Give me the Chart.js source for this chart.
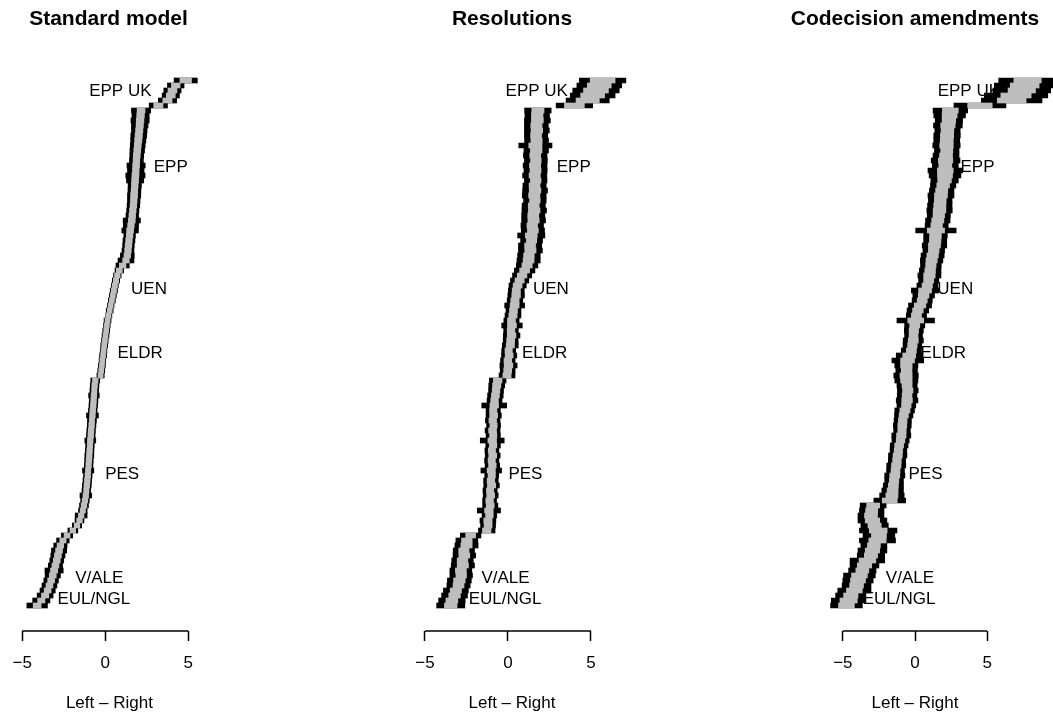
<!DOCTYPE html>
<html>
<head>
<meta charset="utf-8">
<script src="https://cdn.jsdelivr.net/npm/chart.js@4.4.1/dist/chart.umd.min.js"></script>
<style>
  html, body { margin: 0; padding: 0; background: #fff; }
  #wrap { position: relative; width: 1053px; height: 715px; overflow: hidden; }
  canvas { position: absolute; top: 0; }
</style>
</head>
<body>
<div id="wrap">
  <canvas id="std" width="351" height="715" style="left:0px"></canvas>
  <canvas id="res" width="351" height="715" style="left:351px"></canvas>
  <canvas id="cod" width="351" height="715" style="left:702px"></canvas>
</div>
<script>
// MEPs sorted bottom (0) to top (105); estimate, black = wide interval, grey = narrow interval
const panelTitles = ['Standard model', 'Resolutions', 'Codecision amendments'];
const axisTitle = 'Left \u2013 Right';
const xTicks = [-5, 0, 5];

const groupNames = ['EPP UK', 'EPP', 'UEN', 'ELDR', 'PES', 'V/ALE', 'EUL/NGL'];
const groupRows = [102.9, 87.7, 63.3, 50.5, 26.3, 5.5, 1.3];
const stdLabelX = [0.91, 3.95, 2.64, 2.10, 1.02, -0.36, -0.69];
const resLabelX = [1.73, 3.96, 2.58, 2.21, 1.05, -0.15, -0.18];
const codLabelX = [3.73, 4.33, 2.79, 1.96, 0.73, -0.35, -1.10];

const stdMid = [
  -4.10, -3.85, -3.62, -3.47, -3.36, -3.26, -3.16, -3.08, -3.00, -2.92,
  -2.85, -2.78, -2.70, -2.55, -2.30, -1.95, -1.70, -1.55, -1.45, -1.35,
  -1.28, -1.22, -1.17, -1.14, -1.11, -1.08, -1.05, -1.03, -1.00, -0.98,
  -0.96, -0.94, -0.92, -0.90, -0.87, -0.85, -0.82, -0.80, -0.77, -0.75,
  -0.72, -0.70, -0.68, -0.66, -0.64, -0.60, -0.28, -0.24, -0.20, -0.17,
  -0.13, -0.10, -0.06, -0.02, 0.02, 0.06, 0.10, 0.14, 0.20, 0.27,
  0.33, 0.40, 0.46, 0.52, 0.58, 0.65, 0.73, 0.85, 1.05, 1.25,
  1.33, 1.37, 1.40, 1.43, 1.47, 1.50, 1.55, 1.60, 1.63, 1.66,
  1.70, 1.72, 1.74, 1.76, 1.78, 1.80, 1.82, 1.84, 1.86, 1.88,
  1.90, 1.93, 1.96, 1.99, 2.02, 2.05, 2.08, 2.10, 2.13, 2.16,
  3.20, 3.75, 3.95, 4.05, 4.25, 4.85
];
const stdOuter = [
  0.62, 0.52, 0.48, 0.46, 0.45, 0.44, 0.46, 0.55, 0.43, 0.42,
  0.43, 0.46, 0.40, 0.38, 0.34, 0.30, 0.28, 0.27, 0.36, 0.26,
  0.27, 0.26, 0.35, 0.26, 0.27, 0.26, 0.26, 0.34, 0.26, 0.26,
  0.27, 0.26, 0.26, 0.33, 0.26, 0.26, 0.26, 0.27, 0.36, 0.26,
  0.26, 0.26, 0.32, 0.26, 0.26, 0.27, 0.22, 0.21, 0.21, 0.20,
  0.21, 0.20, 0.21, 0.20, 0.21, 0.21, 0.20, 0.21, 0.20, 0.21,
  0.20, 0.21, 0.21, 0.22, 0.21, 0.22, 0.23, 0.26, 0.40, 0.48,
  0.42, 0.36, 0.35, 0.36, 0.35, 0.50, 0.46, 0.52, 0.38, 0.37,
  0.38, 0.38, 0.40, 0.39, 0.40, 0.52, 0.58, 0.50, 0.55, 0.42,
  0.42, 0.44, 0.45, 0.46, 0.48, 0.47, 0.50, 0.55, 0.52, 0.58,
  0.55, 0.55, 0.52, 0.52, 0.50, 0.70
];
const stdInner = [
  0.24, 0.22, 0.22, 0.21, 0.21, 0.21, 0.21, 0.22, 0.21, 0.21,
  0.21, 0.21, 0.20, 0.19, 0.18, 0.17, 0.17, 0.17, 0.17, 0.16,
  0.17, 0.17, 0.17, 0.16, 0.17, 0.17, 0.17, 0.16, 0.17, 0.17,
  0.17, 0.17, 0.16, 0.17, 0.17, 0.17, 0.17, 0.16, 0.17, 0.17,
  0.17, 0.17, 0.17, 0.16, 0.17, 0.17, 0.15, 0.15, 0.15, 0.15,
  0.15, 0.15, 0.15, 0.15, 0.15, 0.15, 0.15, 0.15, 0.15, 0.15,
  0.15, 0.15, 0.15, 0.16, 0.16, 0.16, 0.17, 0.18, 0.20, 0.20,
  0.20, 0.20, 0.20, 0.20, 0.20, 0.21, 0.20, 0.21, 0.20, 0.20,
  0.20, 0.20, 0.21, 0.20, 0.20, 0.21, 0.21, 0.20, 0.21, 0.20,
  0.21, 0.21, 0.21, 0.22, 0.22, 0.22, 0.22, 0.23, 0.23, 0.24,
  0.28, 0.28, 0.27, 0.27, 0.26, 0.35
];

const resMid = [
  -3.45, -3.38, -3.22, -3.14, -2.98, -2.93, -2.82, -2.84, -2.72, -2.74,
  -2.63, -2.66, -2.50, -2.48, -2.25, -1.28, -1.20, -1.21, -1.12, -1.15,
  -1.07, -1.11, -1.04, -1.08, -0.99, -1.03, -0.98, -1.01, -0.94, -0.98,
  -0.92, -0.97, -0.90, -0.95, -0.89, -0.93, -0.87, -0.92, -0.86, -0.89,
  -0.83, -0.81, -0.76, -0.72, -0.68, -0.62, -0.06, -0.02, 0.03, -0.01,
  0.07, 0.04, 0.14, 0.16, 0.22, 0.18, 0.24, 0.21, 0.30, 0.33,
  0.40, 0.42, 0.49, 0.50, 0.58, 0.70, 0.85, 1.00, 1.15, 1.24,
  1.26, 1.35, 1.33, 1.42, 1.40, 1.50, 1.46, 1.54, 1.52, 1.58,
  1.55, 1.62, 1.58, 1.63, 1.60, 1.67, 1.61, 1.66, 1.63, 1.68,
  1.64, 1.70, 1.65, 1.72, 1.69, 1.74, 1.71, 1.77, 1.76, 1.80,
  4.00, 4.80, 5.10, 5.30, 5.50, 5.70
];
const resOuter = [
  0.85, 0.80, 0.78, 0.75, 0.70, 0.72, 0.68, 0.66, 0.70, 0.65,
  0.68, 0.64, 0.70, 0.66, 0.62, 0.50, 0.45, 0.48, 0.44, 0.70,
  0.46, 0.42, 0.45, 0.43, 0.47, 0.44, 0.42, 0.62, 0.44, 0.43,
  0.45, 0.42, 0.44, 0.72, 0.43, 0.45, 0.42, 0.44, 0.46, 0.43,
  0.75, 0.45, 0.47, 0.45, 0.48, 0.50, 0.48, 0.45, 0.52, 0.44,
  0.46, 0.42, 0.48, 0.45, 0.50, 0.44, 0.62, 0.46, 0.48, 0.45,
  0.60, 0.47, 0.50, 0.48, 0.52, 0.55, 0.58, 0.62, 0.65, 0.70,
  0.68, 0.72, 0.70, 0.66, 0.82, 0.70, 0.68, 0.72, 0.70, 0.74,
  0.70, 0.68, 0.72, 0.75, 0.70, 0.68, 0.73, 0.70, 0.72, 0.69,
  0.71, 0.74, 1.00, 0.72, 0.70, 0.75, 0.72, 0.78, 0.74, 0.80,
  1.10, 1.30, 1.35, 1.40, 1.35, 1.40
];
const resInner = [
  0.38, 0.36, 0.35, 0.34, 0.33, 0.35, 0.32, 0.33, 0.34, 0.32,
  0.33, 0.31, 0.34, 0.32, 0.30, 0.26, 0.24, 0.25, 0.23, 0.26,
  0.24, 0.23, 0.24, 0.22, 0.25, 0.23, 0.22, 0.25, 0.23, 0.22,
  0.24, 0.22, 0.23, 0.26, 0.22, 0.24, 0.22, 0.23, 0.24, 0.22,
  0.26, 0.23, 0.24, 0.23, 0.25, 0.26, 0.25, 0.24, 0.26, 0.23,
  0.24, 0.22, 0.25, 0.24, 0.26, 0.23, 0.27, 0.24, 0.25, 0.24,
  0.27, 0.25, 0.26, 0.25, 0.27, 0.28, 0.29, 0.30, 0.31, 0.33,
  0.32, 0.34, 0.33, 0.31, 0.36, 0.33, 0.32, 0.34, 0.33, 0.35,
  0.33, 0.32, 0.34, 0.35, 0.33, 0.32, 0.34, 0.33, 0.34, 0.32,
  0.33, 0.35, 0.40, 0.34, 0.33, 0.35, 0.34, 0.36, 0.35, 0.37,
  0.60, 0.70, 0.72, 0.75, 0.72, 0.75
];

const codMid = [
  -4.75, -4.60, -4.45, -4.20, -4.05, -3.95, -3.85, -3.65, -3.50, -3.30,
  -3.05, -2.95, -2.85, -2.60, -2.50, -2.55, -2.80, -2.95, -3.05, -3.00,
  -2.90, -1.75, -1.60, -1.55, -1.50, -1.45, -1.40, -1.35, -1.30, -1.25,
  -1.20, -1.15, -1.10, -1.00, -0.95, -0.90, -0.88, -0.85, -0.78, -0.70,
  -0.60, -0.55, -0.55, -0.50, -0.55, -0.60, -0.62, -0.58, -0.60, -0.50,
  -0.40, -0.25, -0.18, -0.12, -0.10, -0.08, -0.02, 0.05, 0.10, 0.20,
  0.35, 0.50, 0.60, 0.70, 0.85, 0.95, 1.00, 1.05, 1.10, 1.15,
  1.22, 1.30, 1.35, 1.40, 1.42, 1.45, 1.50, 1.58, 1.65, 1.70,
  1.72, 1.75, 1.80, 1.85, 1.95, 2.05, 2.08, 2.10, 2.10, 2.12,
  2.15, 2.20, 2.18, 2.20, 2.22, 2.25, 2.28, 2.35, 2.40, 2.45,
  4.50, 6.70, 7.00, 7.40, 7.60, 7.80
];
const codOuter = [
  1.10, 1.20, 1.05, 1.15, 1.00, 1.05, 1.10, 0.95, 1.00, 1.20,
  0.95, 1.00, 0.90, 1.25, 1.10, 1.30, 0.95, 1.00, 0.90, 0.85,
  0.90, 1.10, 0.85, 0.75, 0.70, 0.65, 0.70, 0.62, 0.66, 0.60,
  0.64, 0.58, 0.62, 0.60, 0.66, 0.58, 0.62, 0.60, 0.64, 0.70,
  0.65, 0.75, 0.68, 0.72, 0.70, 0.80, 0.85, 0.75, 0.80, 1.10,
  0.90, 0.70, 0.65, 0.70, 0.62, 0.66, 0.70, 1.30, 0.70, 0.75,
  0.80, 0.70, 0.75, 0.95, 0.72, 0.70, 0.80, 0.75, 0.72, 0.78,
  0.80, 0.75, 0.85, 0.80, 0.82, 1.40, 0.80, 0.85, 0.80, 0.88,
  0.85, 0.82, 0.90, 0.85, 0.88, 0.95, 1.10, 1.20, 0.90, 1.00,
  0.90, 0.85, 0.95, 0.90, 0.92, 0.88, 1.00, 0.95, 1.10, 1.20,
  1.80, 2.10, 2.20, 2.00, 2.10, 2.00
];
const codInner = [
  0.55, 0.60, 0.50, 0.55, 0.48, 0.52, 0.55, 0.45, 0.50, 0.58,
  0.46, 0.50, 0.45, 0.60, 0.52, 0.62, 0.46, 0.50, 0.45, 0.42,
  0.45, 0.52, 0.42, 0.38, 0.35, 0.33, 0.35, 0.31, 0.33, 0.30,
  0.32, 0.29, 0.31, 0.30, 0.33, 0.29, 0.31, 0.30, 0.32, 0.35,
  0.33, 0.37, 0.34, 0.36, 0.35, 0.40, 0.42, 0.37, 0.40, 0.50,
  0.45, 0.35, 0.33, 0.35, 0.31, 0.33, 0.35, 0.55, 0.35, 0.37,
  0.40, 0.35, 0.37, 0.45, 0.36, 0.35, 0.40, 0.37, 0.36, 0.39,
  0.40, 0.37, 0.42, 0.40, 0.41, 0.60, 0.40, 0.42, 0.40, 0.44,
  0.42, 0.41, 0.45, 0.42, 0.44, 0.47, 0.52, 0.55, 0.45, 0.50,
  0.45, 0.42, 0.47, 0.45, 0.46, 0.44, 0.50, 0.47, 0.52, 0.55,
  0.85, 1.00, 1.05, 0.95, 1.00, 0.95
];

Chart.defaults.font.family = '"Liberation Sans", Arial, Helvetica, sans-serif';
Chart.defaults.color = '#000';

// group labels go under the marks, axis line only spans the first to last tick (like R's axis())
const panelDecor = {
  id: 'panelDecor',
  beforeDatasetsDraw(chart, args, opts) {
    const { ctx, scales: { x, y } } = chart;
    ctx.save();
    ctx.font = '17px ' + Chart.defaults.font.family;
    ctx.fillStyle = '#000';
    ctx.textAlign = 'center';
    ctx.textBaseline = 'middle';
    groupNames.forEach((name, k) => {
      ctx.fillText(name, x.getPixelForValue(opts.xs[k]), y.getPixelForValue(groupRows[k]));
    });
    ctx.restore();
  },
  afterDraw(chart) {
    const { ctx, chartArea, scales: { x } } = chart;
    ctx.save();
    ctx.strokeStyle = '#000';
    ctx.lineWidth = 1.5;
    ctx.beginPath();
    ctx.moveTo(x.getPixelForValue(xTicks[0]), chartArea.bottom);
    ctx.lineTo(x.getPixelForValue(xTicks[xTicks.length - 1]), chartArea.bottom);
    ctx.stroke();
    ctx.restore();
  }
};

function buildPanel(id, title, mid, outer, inner, labelX, xMin, xMax, padLeft, padRight) {
  new Chart(document.getElementById(id), {
    type: 'bar',
    data: {
      datasets: [
        {
          data: mid.map((m, i) => ({ y: i, x: [m - inner[i], m + inner[i]] })),
          backgroundColor: '#bebebe',
          order: 0
        },
        {
          data: mid.map((m, i) => ({ y: i, x: [m - outer[i], m + outer[i]] })),
          backgroundColor: '#000000',
          order: 1
        }
      ]
    },
    options: {
      indexAxis: 'y',
      responsive: false,
      animation: false,
      devicePixelRatio: 1,
      layout: { padding: { left: padLeft, right: padRight, top: 0, bottom: 0 } },
      datasets: {
        bar: { grouped: false, barPercentage: 1, categoryPercentage: 1, borderWidth: 0, clip: false }
      },
      scales: {
        y: { type: 'linear', display: false, offset: false, grid: { offset: false }, min: -5.1, max: 109.06 },
        x: {
          type: 'linear',
          min: xMin,
          max: xMax,
          border: { display: false },
          grid: { drawOnChartArea: false, tickLength: 10, tickColor: '#000', tickWidth: 1.5 },
          afterBuildTicks: s => { s.ticks = xTicks.map(v => ({ value: v })); },
          afterFit: s => { s.height = 84; },
          ticks: {
            autoSkip: false,
            maxRotation: 0,
            padding: 12,
            color: '#000',
            font: { size: 17 },
            callback: v => v < 0 ? '\u2212' + (-v) : String(v)
          },
          title: { display: true, text: axisTitle, color: '#000', font: { size: 17 }, padding: { top: 0, bottom: 1 } }
        }
      },
      plugins: {
        legend: { display: false },
        tooltip: { enabled: false },
        title: {
          display: true,
          text: title,
          color: '#000',
          font: { size: 21, weight: 'bold' },
          padding: { top: 7, bottom: 28 }
        },
        panelDecor: { xs: labelX }
      }
    },
    plugins: [panelDecor]
  });
}

window.onload = function () {
  buildPanel('std', panelTitles[0], stdMid, stdOuter, stdInner, stdLabelX, -5.570, 6.072, 11, 145);
  buildPanel('res', panelTitles[1], resMid, resOuter, resInner, resLabelX, -6.506, 6.988, 49, 78);
  buildPanel('cod', panelTitles[2], codMid, codOuter, codInner, codLabelX, -9.563, 9.563, 75, 0);
};
</script>
</body>
</html>
